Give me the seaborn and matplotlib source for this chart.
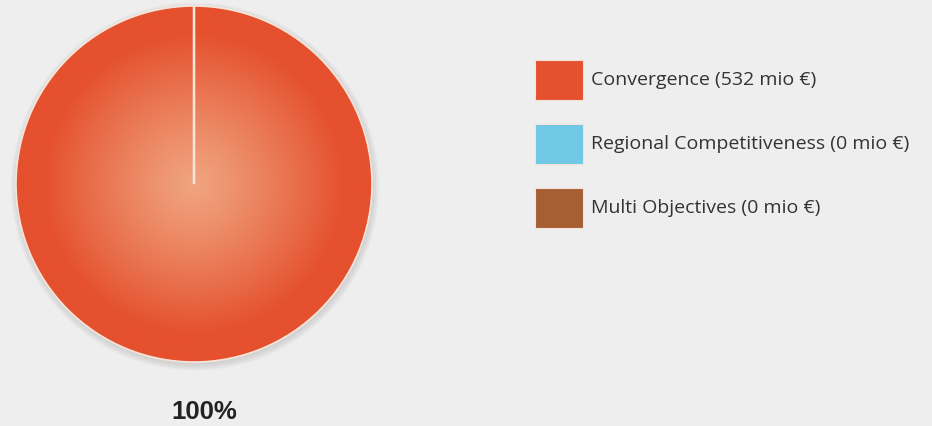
import numpy as np
import matplotlib
matplotlib.use("Agg")
import matplotlib.pyplot as plt
from matplotlib.patches import Circle, Rectangle
from matplotlib.colors import LinearSegmentedColormap
import seaborn as sns

# data
categories = ["Convergence", "Regional Competitiveness", "Multi Objectives"]
amounts = [532, 0, 0]  # mio €
colors = ["#E5502E", "#6EC8E6", "#A65E33"]
center_color = "#F0A47F"

sns.set_theme(style="white", rc={"figure.facecolor": "#EEEEEE",
                                 "axes.facecolor": "#EEEEEE"})
plt.rcParams["font.family"] = ["Open Sans", "DejaVu Sans"]

fig = plt.figure(figsize=(9.32, 4.26), dpi=100)
W, H = 932, 426
cx, cy, r = 194, 184, 178
ax = fig.add_axes([(cx - r) / W, (H - cy - r) / H, 2 * r / W, 2 * r / H])

# soft shadow
for i in range(8):
    ax.add_patch(Circle((0.006, -0.014), 1.0 + 0.005 * i, color="#8a8a8a",
                        alpha=0.035, lw=0, zorder=0, clip_on=False))

wedges, _ = ax.pie(amounts, colors=colors, startangle=90, counterclock=False,
                   radius=1.0, wedgeprops=dict(edgecolor="#F6E6DA", linewidth=1.2))
ax.set_xlim(-1, 1)
ax.set_ylim(-1, 1)
ax.set_aspect("equal")
ax.axis("off")

# radial gradient on the main wedge
n = 500
xs = np.linspace(-1, 1, n)
X, Y = np.meshgrid(xs, xs)
R = np.sqrt(X ** 2 + Y ** 2)
T = np.clip(R / 0.85, 0, 1) ** 1.15
cmap = LinearSegmentedColormap.from_list("rad", [center_color, colors[0]])
for w, v in zip(wedges, amounts):
    if v > 0:
        im = ax.imshow(T, cmap=cmap, extent=(-1, 1, -1, 1), origin="lower",
                       zorder=1, interpolation="bilinear")
        im.set_clip_path(w)
        w.set_facecolor("none")
        w.set_zorder(2)

# wedge boundary lines (zero-size wedges sit on the start edge)
for w in wedges:
    a = np.deg2rad(w.theta1)
    ax.plot([0, np.cos(a)], [0, np.sin(a)], color="#F6E6DA", lw=1.6, zorder=3,
            solid_capstyle="butt")

total = sum(amounts)
fig.text(204 / W, 1 - 412 / H, f"{amounts[0] / total:.0%}", ha="center", va="center",
         fontsize=18.5, fontweight="bold", color="#222222",
         family=["Liberation Sans", "DejaVu Sans"])

# legend
lx, ly, bw, bh, pitch = 535, 60, 48, 40, 64
for i, (c, a, col) in enumerate(zip(categories, amounts, colors)):
    top = ly + i * pitch
    fig.patches.append(Rectangle((lx / W, 1 - (top + bh) / H), bw / W, bh / H,
                                 transform=fig.transFigure, facecolor=col,
                                 edgecolor="#F4E2D8", linewidth=0.8))
    fig.text((lx + bw + 8) / W, 1 - (top + bh / 2) / H, f"{c} ({a} mio €)",
             ha="left", va="center", fontsize=14, color="#333333")

fig.savefig("out.png", dpi=100, facecolor=fig.get_facecolor())
